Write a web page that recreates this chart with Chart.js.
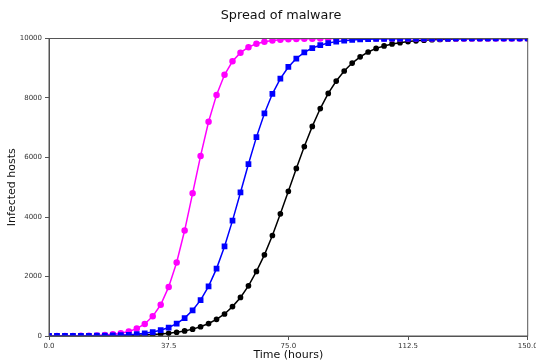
<!DOCTYPE html>
<html>
<head>
<meta charset="utf-8">
<script src="https://cdn.jsdelivr.net/npm/chart.js@4"></script>
<style>
  html, body { margin: 0; padding: 0; background: #fff; }
  #wrap { width: 536px; height: 363px; }
</style>
</head>
<body>
<div id="wrap"><canvas id="malwareChart" width="536" height="363"></canvas></div>
<script>
// ------------------- Data -------------------
const hours = [0, 2.5, 5, 7.5, 10, 12.5, 15, 17.5, 20, 22.5, 25, 27.5, 30, 32.5, 35, 37.5, 40, 42.5, 45, 47.5,
  50, 52.5, 55, 57.5, 60, 62.5, 65, 67.5, 70, 72.5, 75, 77.5, 80, 82.5, 85, 87.5, 90, 92.5, 95, 97.5,
  100, 102.5, 105, 107.5, 110, 112.5, 115, 117.5, 120, 122.5, 125, 127.5, 130, 132.5, 135, 137.5, 140, 142.5, 145, 147.5, 150];

const fastSpread = [1, 2, 3, 4, 7, 12, 20, 33, 55, 91, 150, 248, 405, 662, 1050, 1650, 2470, 3545, 4796, 6052,
  7202, 8104, 8780, 9235, 9525, 9710, 9823, 9894, 9936, 9962, 9977, 9986, 9992, 9995, 9997, 9998, 9999, 9999, 10000, 10000,
  10000, 10000, 10000, 10000, 10000, 10000, 10000, 10000, 10000, 10000, 10000, 10000, 10000, 10000, 10000, 10000, 10000, 10000, 10000, 10000, 10000];

const mediumSpread = [1, 1, 2, 3, 4, 6, 9, 13, 20, 29, 42, 62, 90, 133, 195, 285, 415, 600, 865, 1205,
  1668, 2265, 3010, 3878, 4825, 5780, 6685, 7480, 8140, 8650, 9043, 9327, 9531, 9680, 9775, 9846, 9895, 9928, 9951, 9967,
  9977, 9985, 9989, 9993, 9995, 9997, 9998, 9998, 9999, 9999, 9999, 10000, 10000, 10000, 10000, 10000, 10000, 10000, 10000, 10000, 10000];

const slowSpread = [1, 1, 2, 2, 3, 4, 6, 8, 11, 15, 20, 27, 37, 51, 69, 93, 126, 171, 231, 311,
  419, 561, 740, 988, 1295, 1686, 2170, 2728, 3378, 4108, 4863, 5633, 6368, 7045, 7645, 8153, 8570, 8907, 9175, 9383,
  9546, 9668, 9750, 9818, 9859, 9896, 9923, 9944, 9959, 9969, 9977, 9983, 9988, 9991, 9993, 9995, 9996, 9997, 9998, 9999, 9999];

const xTicks = [0, 37.5, 75, 112.5, 150];
const yTicks = [0, 2000, 4000, 6000, 8000, 10000];

const toPoints = arr => arr.map((v, i) => ({ x: hours[i], y: v }));

// ------------------- Helpers -------------------
// title + box around the plot, like the matplotlib look
const framePlugin = {
  id: "frame",
  afterDatasetsDraw(chart) {
    const { ctx, chartArea: a } = chart;
    ctx.save();
    ctx.strokeStyle = "#555";
    ctx.lineWidth = 1;
    ctx.strokeRect(a.left, a.top, a.right - a.left, a.bottom - a.top);
    ctx.restore();
  },
  afterDraw(chart) {
    const ctx = chart.ctx;
    ctx.save();
    ctx.fillStyle = "#111";
    ctx.font = "12.8px 'DejaVu Sans'";
    ctx.textAlign = "center";
    ctx.textBaseline = "middle";
    ctx.fillText("Spread of malware", 281, 16);
    ctx.restore();
  }
};

const tickFont = { family: "DejaVu Sans", size: 7 };
const titleFont = { family: "DejaVu Sans", size: 11 };

// ------------------- Chart -------------------
const ctx = document.getElementById("malwareChart").getContext("2d");
new Chart(ctx, {
  type: "line",
  data: {
    datasets: [
      {
        label: "slow",
        data: toPoints(slowSpread),
        borderColor: "#000000",
        backgroundColor: "#000000",
        borderWidth: 1.5,
        pointStyle: "circle",
        pointRadius: 2.1,
        clip: 0,
        order: 3
      },
      {
        label: "fast",
        data: toPoints(fastSpread),
        borderColor: "#ff00ff",
        backgroundColor: "#ff00ff",
        borderWidth: 1.5,
        pointStyle: "circle",
        pointRadius: 2.5,
        clip: 0,
        order: 2
      },
      {
        label: "medium",
        data: toPoints(mediumSpread),
        borderColor: "#0000ff",
        backgroundColor: "#0000ff",
        borderWidth: 1.5,
        pointStyle: "rect",
        pointRadius: 3,
        clip: 0,
        order: 1
      }
    ]
  },
  options: {
    responsive: false,
    animation: false,
    devicePixelRatio: 1,
    layout: {
      autoPadding: false,
      padding: { top: 38.5, right: 8.3, bottom: 0, left: 0 }
    },
    plugins: {
      legend: { display: false },
      tooltip: { enabled: false }
    },
    elements: {
      line: { tension: 0 },
      point: { borderWidth: 1 }
    },
    scales: {
      x: {
        type: "linear",
        min: 0,
        max: 150,
        afterBuildTicks: s => { s.ticks = xTicks.map(v => ({ value: v })); },
        afterFit: s => { s.height = 27; s.paddingLeft = 0; s.paddingRight = 0; },
        border: { display: true, color: "#555", width: 1 },
        grid: { drawOnChartArea: false, tickLength: 4, color: "#555" },
        ticks: {
          font: tickFont,
          color: "#333",
          padding: 2,
          maxRotation: 0,
          callback: v => Number(v).toFixed(1)
        },
        title: {
          display: true,
          text: "Time (hours)",
          font: titleFont,
          color: "#111",
          padding: { top: 0, bottom: 1.5 }
        }
      },
      y: {
        min: 0,
        max: 10000,
        afterBuildTicks: s => { s.ticks = yTicks.map(v => ({ value: v })); },
        afterFit: s => { s.width = 49; s.paddingTop = 0; s.paddingBottom = 0; },
        border: { display: true, color: "#555", width: 1 },
        grid: { drawOnChartArea: false, tickLength: 4, color: "#555" },
        ticks: {
          font: tickFont,
          color: "#333",
          padding: 3,
          callback: v => String(v)
        },
        title: {
          display: true,
          text: "Infected hosts",
          font: titleFont,
          color: "#111",
          padding: { top: 6, bottom: 0 }
        }
      }
    }
  },
  plugins: [framePlugin]
});
</script>
</body>
</html>
